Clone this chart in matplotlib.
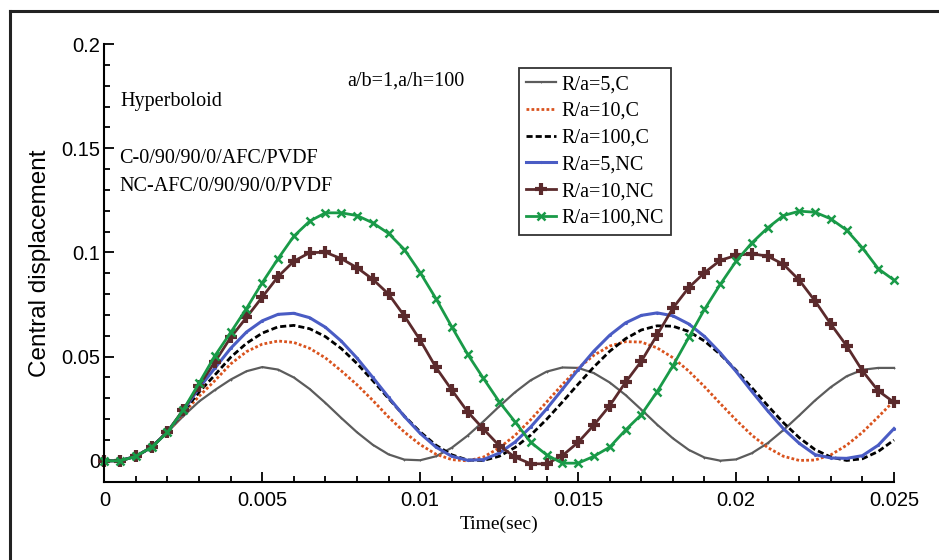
import numpy as np
import matplotlib
matplotlib.use("Agg")
import matplotlib.pyplot as plt
from matplotlib.lines import Line2D
from matplotlib.ticker import MultipleLocator

# central displacement vs time (step 0.0005 s)
time = np.linspace(0, 0.025, 51)

ra5_c = [0, 0.0002, 0.0022, 0.0066, 0.0138, 0.0215, 0.0285, 0.0340, 0.0390, 0.0430,
         0.0450, 0.0438, 0.0400, 0.0345, 0.0278, 0.0206, 0.0137, 0.0077, 0.0031, 0.0006,
         0.0003, 0.0022, 0.0063, 0.0121, 0.0189, 0.0261, 0.0329, 0.0387, 0.0428, 0.0448,
         0.0446, 0.0421, 0.0376, 0.0316, 0.0246, 0.0174, 0.0108, 0.0053, 0.0016, 0.0001,
         0.0007, 0.0037, 0.0085, 0.0148, 0.0218, 0.0290, 0.0354, 0.0406, 0.0437, 0.0446,
         0.0446]
ra10_c = [0, 0.0001, 0.0022, 0.0066, 0.0138, 0.0228, 0.0310, 0.0385, 0.0465, 0.0524,
          0.0560, 0.0575, 0.0568, 0.0540, 0.0494, 0.0432, 0.0365, 0.0290, 0.0210, 0.0138,
          0.0078, 0.0032, 0.0006, 0.0000, 0.0018, 0.0062, 0.0122, 0.0198, 0.0282, 0.0366,
          0.0444, 0.0507, 0.0551, 0.0572, 0.0570, 0.0542, 0.0495, 0.0431, 0.0356, 0.0275,
          0.0196, 0.0123, 0.0064, 0.0022, 0.0002, 0.0004, 0.0029, 0.0075, 0.0137, 0.0211,
          0.0288]
ra100_c = [0, 0.0001, 0.0022, 0.0066, 0.0140, 0.0235, 0.0330, 0.0412, 0.0497, 0.0564,
           0.0613, 0.0643, 0.0650, 0.0634, 0.0596, 0.0539, 0.0467, 0.0385, 0.0299, 0.0215,
           0.0139, 0.0075, 0.0029, 0.0004, 0.0002, 0.0022, 0.0064, 0.0124, 0.0199, 0.0282,
           0.0368, 0.0451, 0.0526, 0.0586, 0.0628, 0.0648, 0.0646, 0.0621, 0.0575, 0.0511,
           0.0435, 0.0351, 0.0265, 0.0183, 0.0111, 0.0054, 0.0018, 0.0002, 0.0010, 0.0045,
           0.0100]
ra5_nc = [0, 0.0001, 0.0022, 0.0066, 0.0140, 0.0240, 0.0350, 0.0445, 0.0540, 0.0618,
          0.0672, 0.0703, 0.0708, 0.0687, 0.0641, 0.0575, 0.0493, 0.0400, 0.0305, 0.0213,
          0.0132, 0.0066, 0.0022, 0.0003, 0.0006, 0.0037, 0.0090, 0.0163, 0.0249, 0.0343,
          0.0438, 0.0527, 0.0603, 0.0662, 0.0698, 0.0710, 0.0696, 0.0657, 0.0597, 0.0518,
          0.0429, 0.0333, 0.0240, 0.0154, 0.0084, 0.0030, 0.0014, 0.0012, 0.0025, 0.0075,
          0.0155]
ra10_nc = [0, 0, 0.0022, 0.0066, 0.0140, 0.0245, 0.0360, 0.0475, 0.0592, 0.0688,
           0.0786, 0.0884, 0.0958, 0.0999, 0.1001, 0.0970, 0.0927, 0.0871, 0.0800, 0.0695,
           0.0579, 0.0448, 0.0340, 0.0236, 0.0153, 0.0073, 0.0018, -0.0014, -0.0014, 0.0025,
           0.0089, 0.0172, 0.0265, 0.0377, 0.0478, 0.0604, 0.0733, 0.0831, 0.0903, 0.0962,
           0.0986, 0.0994, 0.0982, 0.0943, 0.0867, 0.0767, 0.0656, 0.0552, 0.0432, 0.0336,
           0.0281]
ra100_nc = [0, 0, 0.0022, 0.0066, 0.0137, 0.0245, 0.0373, 0.0504, 0.0616, 0.0731,
            0.0855, 0.0970, 0.1078, 0.1150, 0.1190, 0.1190, 0.1177, 0.1142, 0.1091, 0.1014,
            0.0903, 0.0778, 0.0643, 0.0512, 0.0396, 0.0284, 0.0188, 0.0089, 0.0029, -0.0011,
            -0.0011, 0.0022, 0.0066, 0.0148, 0.0222, 0.0332, 0.0456, 0.0592, 0.0727, 0.0847,
            0.0958, 0.1046, 0.1118, 0.1177, 0.1198, 0.1193, 0.1161, 0.1107, 0.1022, 0.0922,
            0.0867]

labels = ["R/a=5,C", "R/a=10,C", "R/a=100,C", "R/a=5,NC", "R/a=10,NC", "R/a=100,NC"]
x_ticks = [0, 0.005, 0.01, 0.015, 0.02, 0.025]
x_tick_labels = ["0", "0.005", "0.01", "0.015", "0.02", "0.025"]
y_ticks = [0, 0.05, 0.1, 0.15, 0.2]
y_tick_labels = ["0", "0.05", "0.1", "0.15", "0.2"]

plt.rcParams["font.family"] = ["Liberation Sans", "DejaVu Sans"]
serif = ["Liberation Serif", "DejaVu Serif"]

fig = plt.figure(figsize=(9.39, 5.6), dpi=100)
ax = fig.add_axes([0.1111, 0.1398, 0.8410, 0.7816])

styles = [
    dict(color="#5c5c5c", lw=1.6, marker="+", ms=2, mew=0.6),
    dict(color="#d9531e", lw=2.0, ls=(0, (1, 0.8))),
    dict(color="black", lw=2.0, ls=(0, (2.2, 1.1))),
    dict(color="#4a5cc4", lw=2.2, marker=".", ms=2.5),
    dict(color="#5b2a2c", lw=2.0, marker="+", ms=9, mew=3),
    dict(color="#199a48", lw=2.0, marker="x", ms=6, mew=1.8),
]
for vals, lab, st in zip([ra5_c, ra10_c, ra100_c, ra5_nc, ra10_nc, ra100_nc], labels, styles):
    ax.plot(time, vals, label=lab, clip_on=False, **st)

ax.set_xlim(0, 0.025)
ax.set_ylim(-0.01, 0.2)
ax.set_xticks(x_ticks)
ax.set_xticklabels(x_tick_labels)
ax.set_yticks(y_ticks)
ax.set_yticklabels(y_tick_labels)
ax.xaxis.set_minor_locator(MultipleLocator(0.001))
ax.yaxis.set_minor_locator(MultipleLocator(0.01))
ax.tick_params(which="both", direction="in", width=1.3, labelsize=14.5)
ax.tick_params(which="major", length=7)
ax.tick_params(which="minor", length=4)
ax.tick_params(axis="x", pad=7)
ax.tick_params(axis="y", pad=3)
for s in ["top", "right"]:
    ax.spines[s].set_visible(False)
for s in ["left", "bottom"]:
    ax.spines[s].set_linewidth(1.5)

ax.set_xlabel("Time(sec)", family=serif, fontsize=14)
ax.xaxis.set_label_coords(0.5, -0.078)
ax.set_ylabel("Central displacement", fontsize=17.5)
ax.yaxis.set_label_coords(-0.068, 0.5)

ax.text(0.0005, 0.1703, "Hyperboloid", family=serif, fontsize=14.5)
ax.text(0.00047, 0.1431, "C-0/90/90/0/AFC/PVDF", family=serif, fontsize=14.5)
ax.text(0.00047, 0.1297, "NC-AFC/0/90/90/0/PVDF", family=serif, fontsize=14.5)
ax.text(0.00769, 0.1799, "a/b=1,a/h=100", family=serif, fontsize=14.5)

leg = ax.legend(loc="upper left", bbox_to_anchor=(519 / 939, 1 - 68 / 560),
                bbox_transform=fig.transFigure, borderaxespad=0,
                prop={"family": serif, "size": 14.5}, frameon=True, fancybox=False,
                edgecolor="black", handlelength=1.5, handletextpad=0.25,
                borderpad=0.35, labelspacing=0.38)
leg.get_frame().set_linewidth(1.3)

# outer frame (top and left edges of the original scan)
fig.add_artist(Line2D([10 / 939, 1], [1 - 11 / 560] * 2, transform=fig.transFigure,
                      color="#222222", lw=2.2))
fig.add_artist(Line2D([10 / 939] * 2, [0, 1 - 11 / 560], transform=fig.transFigure,
                      color="#222222", lw=2.2))

fig.savefig("out.png", dpi=100)
